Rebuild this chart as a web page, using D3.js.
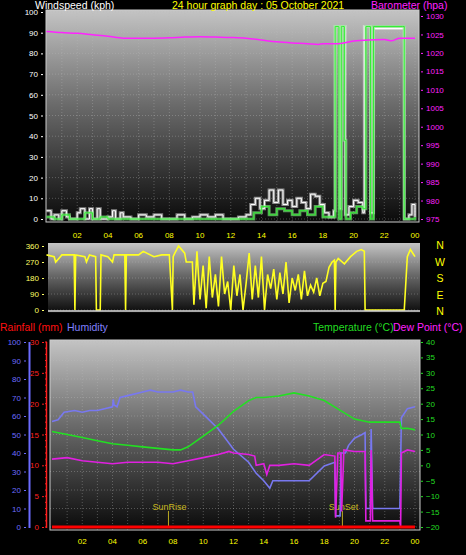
<!DOCTYPE html><html><head><meta charset="utf-8">
<script src="https://cdn.jsdelivr.net/npm/d3@7"></script>
<style>body{margin:0;background:#000}svg{display:block;font-family:"Liberation Sans",Arial,sans-serif}</style></head><body>
<svg id="c" width="466" height="555"></svg>
<script>
const hourTicks=[2,4,6,8,10,12,14,16,18,20,22,24];
const hourLabels=["02","04","06","08","10","12","14","16","18","20","22","00"];
// wind gust / average (kph)
const gustT=[0,0.3,0.5,0.8,1,1.3,1.5,2,2.2,2.5,2.8,3,3.3,3.5,4,4.3,4.5,4.8,5,5.5,6,6.5,7,7.5,8,8.5,9,9.5,10,10.5,11,11.5,12,12.5,13,13.3,13.6,13.9,14.2,14.5,14.8,15.1,15.4,15.7,16,16.3,16.6,16.9,17.2,17.5,17.8,18.1,18.4,18.7,18.8,19.0,19.1,19.2,19.35,19.45,19.7,20,20.3,20.6,20.7,21.0,21.1,21.3,23.2,23.3,23.6,23.8,24];
const gust=[4,0,2,0,4,1,0,3,5,0,5,0,5,0,1,4,0,3,1,0,2,1,2,0,0,2,0,1,2,1,2,0,0,1,2,7,10,5,9,14,8,14,7,9,6,10,8,5,12,11,7,3,1,4,93,93,5,93,93,2,6,9,8,3,93,93,3,92,92,0,2,7,1];
const avgT=[0,0.5,1,1.5,2,2.5,3,3.5,4,6,8,10,12,13,13.5,14,14.5,15,15.5,16,16.5,17,17.5,18,18.7,18.8,19.0,19.05,19.2,19.3,19.4,19.5,19.8,20.2,20.6,20.8,21.0,21.1,21.3,23.2,23.3,24];
const avg=[1,0,2,0,0,3,0,1,0,0,0,0,0,0,3,6,2,5,4,2,4,2,6,1,1,93,93,0,93,93,38,0,3,6,5,93,93,0,93,93,0,1];
// barometer (hPa)
const baroT=[0,1,2,3,4,5,6,7,8,9,10,11,12,13,14,15,16,17,17.7,18,19,20,21,22,22.5,23,24];
const baro=[1025.8,1025.5,1025.3,1024.9,1024.5,1024,1024,1024,1024.1,1024.3,1024.4,1024.3,1024.2,1024,1023.5,1023,1022.7,1022.5,1022.3,1022.5,1022.5,1023.2,1023.5,1023.6,1023.3,1024,1024];
// wind direction (deg)
const dirT=[0,0.5,0.6,0.9,1,1.5,1.8,1.85,1.9,2.5,2.6,2.8,3.2,3.25,3.5,3.55,4,4.3,4.4,5.1,5.15,5.2,6,6.3,7,7.5,8,8.2,8.25,8.3,8.6,9,9.1,9.5,9.6,9.8,10,10.2,10.4,10.6,10.8,11,11.2,11.4,11.6,11.8,12,12.2,12.4,12.6,12.8,13,13.2,13.4,13.6,13.8,14,14.2,14.4,14.6,14.8,15,15.2,15.4,15.6,15.8,16,16.2,16.4,16.6,16.8,17,17.2,17.4,17.6,17.8,18,18.2,18.4,18.6,18.75,18.8,18.85,19,19.4,19.8,20.2,20.5,20.7,20.75,23.2,23.3,23.5,23.7,24];
const dir=[310,300,270,300,310,310,310,0,310,300,270,310,300,0,0,310,300,270,310,310,0,310,310,330,300,310,310,0,300,310,360,320,270,270,30,330,60,250,10,300,70,200,20,300,90,160,0,250,80,200,0,150,320,60,250,70,300,0,200,120,230,60,210,90,270,40,180,110,200,60,220,80,140,100,180,80,150,160,240,270,280,0,270,290,260,300,330,340,330,0,0,0,300,340,300];
// humidity (%)
const humT=[0,0.4,0.8,1.5,2,2.5,3,4,4.05,4.1,4.3,4.5,5,6,6.5,7,8,8.5,9,9.3,9.5,10,11,12,13,13.5,14,14.2,14.4,14.6,15,16,17,18,18.7,18.75,19.05,19.1,19.4,19.6,20,20.5,20.7,20.75,21.05,21.1,21.2,23,23.1,23.5,24];
const hum=[57,58,62,63,62,63,63,65,69,66,65,70,71,73,74,73,73,74,73,73,65,61,53,42,35,29,25,23,21,25,25,25,25,33,35,6,6,40,40,44,48,50,51,10,10,53,10,10,59,64,65];
// temperature & dew point (°C)
const tempT=[0,0.5,1,2,3,4,5,6,7,8,8.5,9,10,11,12,13,13.5,14,15,16,17,18,19,20,21,22,23,23.1,23.5,24];
const temp=[11,10.5,10,9,8,7,6.5,6,5.5,5,5,6,9.5,13,17.5,21,22,22,22.5,23.5,22.5,21,18,15,14,14,14,12,12,11.5];
const dewT=[0,1,2,3,4,5,6,7,8,9,10,11,11.7,12,13,13.4,13.5,14,14.2,14.4,15,16,17,18,18.7,18.75,18.9,19.1,19.15,19.3,20,20.7,20.75,21.05,21.1,21.2,23,23.05,23.1,23.5,24];
const dew=[2,2.5,1.5,1,0.5,1,1,1,0.5,1.5,2.5,3.5,4.5,4,3.5,3,0,0.5,-3,0,0,0.5,0,3.5,3,-17,4,4,-15,5,4.5,4.5,-18,-18,5,-18,-18,-20,4,5,4.5];
const rainT=[0,24];const rain=[0,0];
const sunEvents=[["SunRise",7.7],["SunSet",19.2]];

const svg=d3.select("#c");
const defs=svg.append("defs");
const g=defs.append("linearGradient").attr("id","bg").attr("x1",0).attr("x2",0).attr("y1",0).attr("y2",1);
g.append("stop").attr("offset","0").attr("stop-color","#c4c4c4");
g.append("stop").attr("offset","0.45").attr("stop-color","#6a6a6a");
g.append("stop").attr("offset","1").attr("stop-color","#0a0a0a");

function panel(x0,x1,y0,y1){
  svg.append("rect").attr("x",x0).attr("y",y0).attr("width",x1-x0).attr("height",y1-y0).attr("fill","url(#bg)");
}
function txt(x,y,s,c,size,anchor){return svg.append("text").attr("x",x).attr("y",y).attr("fill",c).attr("font-size",size||8).attr("text-anchor",anchor||"start").text(s);}
function grid(x,y,xt,yt,x0,x1,y0,y1){
  const gg=svg.append("g").attr("stroke","#bbb").attr("stroke-opacity",0.45).attr("stroke-dasharray","1,2").attr("stroke-width",0.8);
  xt.forEach(h=>gg.append("line").attr("x1",x(h)).attr("x2",x(h)).attr("y1",y0).attr("y2",y1));
  yt.forEach(v=>gg.append("line").attr("x1",x0).attr("x2",x1).attr("y1",y(v)).attr("y2",y(v)));
}
function line(xs,T,V,y,col,w,op,curve){
  svg.append("path").datum(T.map((t,i)=>[t,V[i]])).attr("fill","none").attr("stroke",col).attr("stroke-width",w).attr("stroke-opacity",op||1)
   .attr("d",d3.line().x(d=>xs(d[0])).y(d=>y(d[1])).curve(curve||d3.curveStepAfter));
}
function ticksAxis(scale,vals,x,col,side){
  const a=(side==="left"?d3.axisLeft(scale):d3.axisRight(scale)).tickValues(vals).tickSize(2).tickFormat(d3.format("d"));
  const gg=svg.append("g").attr("transform",`translate(${x},0)`).call(a);
  gg.select(".domain").remove();
  gg.selectAll("line").attr("stroke",col);
  gg.selectAll("text").attr("fill",col).attr("font-size",8).attr("font-family","Liberation Sans, Arial");
  return gg;
}

// ---- top panel
const xT=d3.scaleLinear().domain([0,24]).range([46.5,415]);
const yW=d3.scaleLinear().domain([0,100]).range([219,12]);
const yB=d3.scaleLinear().domain([975,1030]).range([219,16]);
panel(46,419,10,222);
grid(xT,yW,d3.range(1,25),d3.range(0,101,10),46,419,10,222);
svg.append("rect").attr("x",46).attr("y",10).attr("width",373).attr("height",212).attr("fill","none").attr("stroke","#ccc").attr("stroke-width",1);
line(xT,gustT,gust,yW,"#e8e8e8",3,0.55);
line(xT,gustT,gust,yW,"#ffffff",1);
line(xT,avgT,avg,yW,"#8cf08c",3,0.6);
line(xT,avgT,avg,yW,"#33ee33",1);
svg.append("path").datum(baroT.map((t,i)=>[t,baro[i]])).attr("fill","none").attr("stroke","#ff22ff").attr("stroke-width",1.5)
  .attr("d",d3.line().x(d=>xT(d[0])).y(d=>yB(d[1])).curve(d3.curveMonotoneX));
ticksAxis(yW,d3.range(0,101,10),43,"#fff","left");
ticksAxis(yB,d3.range(975,1031,5),421,"#ff22ff","right");
hourTicks.forEach((h,i)=>txt(xT(h),238,hourLabels[i],"#ffff00",8,"middle"));
txt(35,9,"Windspeed (kph)","#fff",10.5);
txt(172,9,"24 hour graph day : 05 October 2021","#ffff00",10.5);
txt(371,9,"Barometer (hpa)","#ff22ff",10.5);

// ---- direction panel
const xD=d3.scaleLinear().domain([0,24]).range([46.5,415]);
const yD=d3.scaleLinear().domain([0,360]).range([310,246]);
panel(48,420,243,313);
grid(xD,yD,[],[0,90,180,270,360],48,420,243,313);
svg.append("path").datum(dirT.map((t,i)=>[t,dir[i]])).attr("fill","none").attr("stroke","#ffff22").attr("stroke-width",1.6)
  .attr("d",d3.line().x(d=>xD(d[0])).y(d=>yD(d[1])));
svg.append("line").attr("x1",48).attr("x2",420).attr("y1",311).attr("y2",311).attr("stroke","#ddd").attr("stroke-width",1.5);
ticksAxis(yD,[0,90,180,270,360],44,"#ffff66","left");
["N","W","S","E","N"].forEach((s,i)=>txt(440,249+i*16.5,s,"#ffff00",10.5,"middle"));

// ---- legend
txt(0,331,"Rainfall (mm)","#ff1010",10.5);
txt(67,331,"Humidity","#8080ff",10.5);
txt(313,331,"Temperature (°C)","#22dd22",10.5);
txt(393,331,"Dew Point (°C)","#ff22ff",10.5);

// ---- bottom panel
const xB=d3.scaleLinear().domain([0,24]).range([52,415]);
const yH=d3.scaleLinear().domain([0,100]).range([527,342]);
const yR=d3.scaleLinear().domain([0,30]).range([527,342]);
const yTp=d3.scaleLinear().domain([-20,40]).range([527,342]);
panel(50,420,340,530);
grid(xB,yH,d3.range(1,25),d3.range(0,101,10),50,420,340,530);
svg.append("rect").attr("x",50).attr("y",340).attr("width",370).attr("height",190).attr("fill","none").attr("stroke","#ccc");
sunEvents.forEach(([s,h])=>{
  svg.append("line").attr("x1",xB(h)).attr("x2",xB(h)).attr("y1",511).attr("y2",527).attr("stroke","#bbaa22");
  txt(xB(h)+1,510,s,"#c8b820",9,"middle");
});
line(xB,humT,hum,yH,"#7878f0",1.6,1,d3.curveLinear);
line(xB,tempT,temp,yTp,"#22e022",1.6,1,d3.curveLinear);
line(xB,dewT,dew,yTp,"#e020e0",1.6,1,d3.curveLinear);
line(xB,rainT,rain,yR,"#ff0000",3);
ticksAxis(yH,d3.range(0,101,10),26,"#6c6cff","left");
svg.append("line").attr("x1",29.5).attr("x2",29.5).attr("y1",342).attr("y2",528).attr("stroke","#6c6cff").attr("stroke-width",2);
ticksAxis(yR,d3.range(0,31,5),44,"#ff2020","left");
svg.append("g").selectAll("line").data(d3.range(0,31,1)).join("line").attr("x1",45).attr("x2",47).attr("y1",d=>yR(d)).attr("y2",d=>yR(d)).attr("stroke","#ff2020");
svg.append("line").attr("x1",46.5).attr("x2",46.5).attr("y1",342).attr("y2",528).attr("stroke","#ff2020").attr("stroke-width",1.5);
ticksAxis(yTp,d3.range(-20,41,5),421,"#22dd22","right");
hourTicks.forEach((h,i)=>txt(xB(h),544,hourLabels[i],"#ffff00",8,"middle"));
</script></body></html>
